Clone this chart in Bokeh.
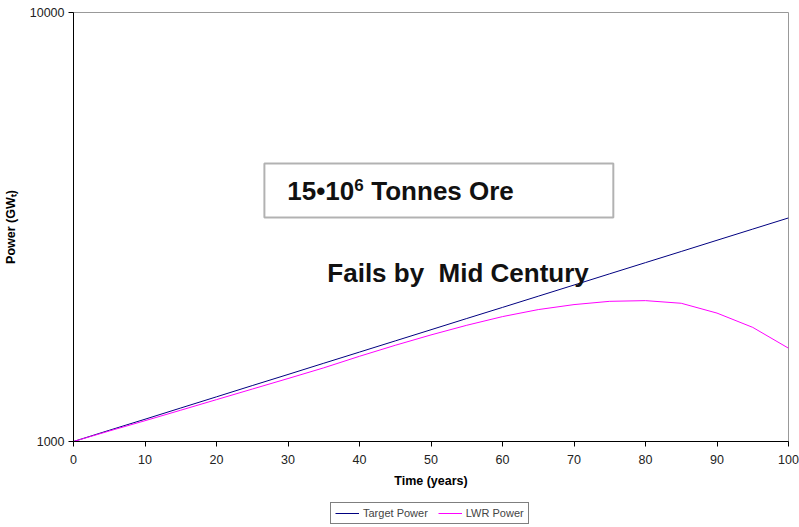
from bokeh.plotting import figure
from bokeh.layouts import column
from bokeh.models import (Range1d, FixedTicker, Legend, LegendItem, BoxAnnotation, Label)
from bokeh.embed import file_html
from bokeh.resources import INLINE

years = [0, 5, 10, 15, 20, 25, 30, 35, 40, 45, 50, 55, 60, 65, 70, 75, 80, 85, 90, 95, 100]
target_power = [1000, 1062, 1127, 1197, 1271, 1350, 1433, 1522, 1616, 1716, 1822,
                1935, 2054, 2181, 2316, 2460, 2612, 2773, 2945, 3127, 3320]
lwr_power = [1000, 1058, 1118, 1183, 1252, 1325, 1402, 1485, 1580, 1676, 1772,
             1866, 1955, 2030, 2085, 2122, 2130, 2100, 1992, 1845, 1650]
x_ticks = [0, 10, 20, 30, 40, 50, 60, 70, 80, 90, 100]
y_ticks = [1000, 10000]
y_tick_labels = {1000: "1000", 10000: "10000"}

FONT = "Liberation Sans"
TARGET_COLOR = "#000080"
LWR_COLOR = "#FF00FF"

p = figure(width=799, height=497, output_backend="svg", toolbar_location=None,
           y_axis_type="log", x_range=Range1d(0, 100), y_range=Range1d(1000, 10000),
           min_border_left=73, min_border_right=11, min_border_top=12, min_border_bottom=56)

p.background_fill_color = "white"
p.border_fill_color = "white"
p.outline_line_color = "#999999"
p.outline_line_width = 1
p.xgrid.visible = False
p.ygrid.visible = False

p.line(years, target_power, line_color=TARGET_COLOR, line_width=1)
p.line(years, lwr_power, line_color=LWR_COLOR, line_width=1)

for ax in (p.xaxis[0], p.yaxis[0]):
    ax.axis_line_color = "black"
    ax.major_tick_line_color = "black"
    ax.minor_tick_line_color = None
    ax.major_tick_in = 0
    ax.major_tick_out = 5
    ax.major_label_text_font = FONT
    ax.major_label_text_font_size = "12.5px"
    ax.major_label_text_color = "#222222"
    ax.axis_label_text_font = FONT
    ax.axis_label_text_font_size = "12.5px"
    ax.axis_label_text_font_style = "bold"
    ax.axis_label_text_color = "black"

p.xaxis.ticker = FixedTicker(ticks=x_ticks)
p.xaxis.axis_label = "Time (years)"
p.xaxis.major_label_standoff = 8
p.xaxis.axis_label_standoff = 7

p.yaxis.ticker = FixedTicker(ticks=y_ticks)
p.yaxis.major_label_overrides = y_tick_labels
p.yaxis.axis_label = "Power (GWₜ)"
p.yaxis.major_label_standoff = 4
p.yaxis.axis_label_standoff = 9

# annotation box
box = BoxAnnotation(left=26.7, right=75.5, bottom=3327, top=4446,
                    fill_alpha=0, line_color="black", line_width=2)
p.add_layout(box)

main_txt = dict(text_font=FONT, text_font_style="bold", text_color="#111111",
                text_baseline="middle")
p.add_layout(Label(x=29.9, y=3827, text="15•10", text_font_size="26px", **main_txt))
p.add_layout(Label(x=29.9, y=3827, x_offset=67, y_offset=6, text="6",
                   text_font_size="17px", **main_txt))
p.add_layout(Label(x=29.9, y=3827, x_offset=84, text="Tonnes Ore",
                   text_font_size="26px", **main_txt))
p.add_layout(Label(x=35.5, y=2477, text="Fails by\u00a0 Mid Century",
                   text_font_size="26px", **main_txt))

# legend strip below the chart (same series, drawn outside its visible range)
p2 = figure(width=799, height=30, output_backend="svg", toolbar_location=None,
            x_range=Range1d(-10, -9), y_range=Range1d(0, 1),
            x_axis_location=None, y_axis_location=None, min_border=0)
p2.outline_line_color = None
p2.grid.visible = False
p2.background_fill_color = "white"
p2.border_fill_color = "white"
l1 = p2.line(years, target_power, line_color=TARGET_COLOR, line_width=1)
l2 = p2.line(years, lwr_power, line_color=LWR_COLOR, line_width=1)

legend = Legend(items=[LegendItem(label="Target Power", renderers=[l1]),
                       LegendItem(label="LWR Power", renderers=[l2])],
                location=(257, 3), orientation="horizontal",
                border_line_color="black", border_line_width=1,
                background_fill_color="white", background_fill_alpha=1,
                label_text_font=FONT, label_text_font_size="11px",
                glyph_width=24, glyph_height=10, label_standoff=4,
                spacing=10, padding=4, margin=0)
p2.add_layout(legend, "center")

layout = column(p, p2, spacing=0)
open("out.html", "w").write(file_html(layout, INLINE))
